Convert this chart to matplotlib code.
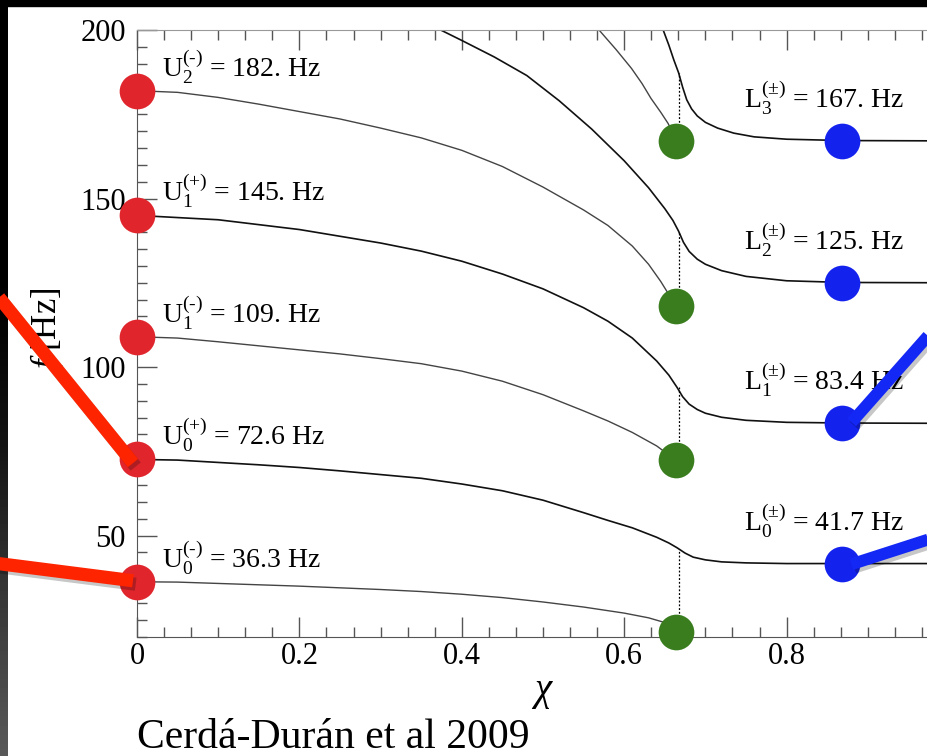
import numpy as np
import matplotlib.pyplot as plt
import matplotlib.patheffects as pe
from matplotlib.patches import Rectangle
from matplotlib.ticker import MultipleLocator

plt.rcParams['font.family'] = 'Liberation Serif'
plt.rcParams['mathtext.fontset'] = 'custom'
plt.rcParams['mathtext.rm'] = 'Liberation Serif'
plt.rcParams['mathtext.it'] = 'Liberation Serif:italic'

# frequencies at chi = 0 (red) and on the plateau (blue)
u_freqs = [36.3, 72.6, 109., 145., 182.]
u_names = [r"U$_0^{(‐)}$ = 36.3 Hz", r"U$_0^{(+)}$ = 72.6 Hz", r"U$_1^{(‐)}$ = 109. Hz",
           r"U$_1^{(+)}$ = 145. Hz", r"U$_2^{(‐)}$ = 182. Hz"]
l_freqs = [41.7, 83.4, 125., 167.]
l_names = [r"L$_0^{(\pm)}$ = 41.7 Hz", r"L$_1^{(\pm)}$ = 83.4 Hz", r"L$_2^{(\pm)}$ = 125. Hz",
           r"L$_3^{(\pm)}$ = 167. Hz"]
chi_l = 0.868

# end points of the U(-) branches (green) and the dotted links
chi_end = 0.664
end_freqs = [21.5, 72.3, 118., 167.]
chi_link = 0.667
link_top = [46.0, 94.0, 140.3, 187.3]

# branches
u0m_x = [0, 0.05, 0.10, 0.15, 0.20, 0.25, 0.30, 0.35, 0.40, 0.45, 0.50, 0.55, 0.60, 0.63, 0.65, 0.664]
u0m_y = [36.3, 36.2, 35.8, 35.4, 35.0, 34.5, 34.0, 33.4, 32.6, 31.6, 30.3, 28.8, 27.0, 25.6, 24.2, 22.5]

u0p_x = [0, 0.05, 0.10, 0.15, 0.20, 0.25, 0.30, 0.35, 0.40, 0.45, 0.50, 0.55, 0.58, 0.61, 0.64,
         0.655, 0.665, 0.675, 0.685, 0.70, 0.72, 0.75, 0.80, 1.0]
u0p_y = [72.6, 72.4, 71.7, 71.0, 70.2, 69.2, 68.1, 67.0, 65.3, 63.3, 60.5, 56.8, 54.5, 52.3, 49.5,
         47.8, 46.4, 44.8, 43.6, 42.8, 42.2, 41.9, 41.7, 41.7]

u1m_x = [0, 0.05, 0.10, 0.15, 0.20, 0.25, 0.30, 0.35, 0.40, 0.45, 0.50, 0.55, 0.58, 0.61, 0.64, 0.664]
u1m_y = [109.0, 108.6, 107.5, 106.3, 105.1, 103.9, 102.5, 101.0, 98.8, 95.8, 91.8, 87.0, 84.0,
         80.6, 76.6, 72.3]

u1p_x = [0, 0.10, 0.20, 0.30, 0.35, 0.40, 0.45, 0.50, 0.55, 0.58, 0.61, 0.64, 0.655, 0.665,
         0.672, 0.68, 0.69, 0.70, 0.72, 0.75, 0.80, 0.87, 1.0]
u1p_y = [145.0, 143.7, 140.8, 136.8, 134.4, 131.4, 127.6, 123.2, 117.6, 113.6, 108.6, 101.8,
         97.6, 94.0, 91.2, 89.0, 87.4, 86.3, 85.1, 84.2, 83.6, 83.4, 83.3]

u2m_x = [0, 0.05, 0.10, 0.15, 0.20, 0.25, 0.30, 0.35, 0.40, 0.45, 0.50, 0.55, 0.58, 0.61, 0.63,
         0.645, 0.655, 0.664]
u2m_y = [182.0, 181.5, 180.0, 178.0, 175.8, 173.6, 170.9, 168.0, 164.3, 159.5, 153.4, 146.6,
         142.0, 135.9, 130.5, 125.4, 121.5, 118.0]

u2p_x = [0.35, 0.374, 0.40, 0.44, 0.48, 0.52, 0.56, 0.60, 0.63, 0.65, 0.66, 0.667, 0.673, 0.68,
         0.69, 0.70, 0.72, 0.75, 0.80, 0.87, 1.0]
u2p_y = [202.8, 200.0, 196.9, 192.0, 186.5, 179.0, 170.6, 161.2, 153.2, 147.0, 143.5, 140.3,
         137.0, 134.3, 132.0, 130.5, 128.6, 126.9, 125.6, 125.1, 125.0]

u3m_x = [0.55, 0.569, 0.59, 0.609, 0.622, 0.633, 0.645, 0.654, 0.664]
u3m_y = [205.0, 200.0, 194.2, 188.6, 184.1, 179.7, 175.6, 172.3, 167.5]

u3p_x = [0.640, 0.648, 0.655, 0.661, 0.667, 0.672, 0.677, 0.683, 0.69, 0.70, 0.715, 0.735,
         0.76, 0.80, 0.87, 1.0]
u3p_y = [205.0, 200.0, 195.5, 191.2, 187.3, 183.0, 179.3, 176.6, 174.5, 172.6, 170.9, 169.4,
         168.3, 167.6, 167.2, 167.1]

minus_branches = [(u0m_x, u0m_y), (u1m_x, u1m_y), (u2m_x, u2m_y), (u3m_x, u3m_y)]
plus_branches = [(u0p_x, u0p_y), (u1p_x, u1p_y), (u2p_x, u2p_y), (u3p_x, u3p_y)]

fig = plt.figure(figsize=(9.27, 7.56), dpi=100)
ax = fig.add_axes([137 / 927, 119.3 / 756, 812 / 927, 606.7 / 756])
ax.set_zorder(2)

for bx, by in minus_branches:
    ax.plot(bx, by, color='#444444', lw=1.0, zorder=2, solid_joinstyle='round')
for bx, by in plus_branches:
    ax.plot(bx, by, color='#111111', lw=1.2, zorder=2, solid_joinstyle='round')

for f0, f1 in zip(end_freqs, link_top):
    ax.plot([chi_link, chi_link], [f0, f1], color='k', lw=0.9, ls=(0, (1.5, 1.5)), zorder=2)

ax.plot([0] * len(u_freqs), u_freqs, 'o', ms=25.7, color='#e0262c', mec='none',
        clip_on=False, zorder=3)
ax.plot([chi_end] * len(end_freqs), end_freqs, 'o', ms=25.7, color='#3a7d1e', mec='none',
        clip_on=False, zorder=3)
ax.plot([chi_l] * len(l_freqs), l_freqs, 'o', ms=25.7, color='#1422ee', mec='none',
        clip_on=False, zorder=3)

for f, name in zip(u_freqs, u_names):
    ax.text(0.031, f + 4, name, fontsize=20, va='baseline', zorder=4)
for f, name in zip(l_freqs, l_names):
    ax.text(0.747, f + 9.6, name, fontsize=20, va='baseline', zorder=4)

# slide pointers
shadow = [pe.SimpleLineShadow(offset=(2, -2.5), shadow_color='k', alpha=0.22), pe.Normal()]
for px, py in [([-0.2, -0.005], [129.6, 71.5]), ([-0.2, -0.005], [42.6, 36.6])]:
    ax.plot(px, py, color='#ff2400', lw=9.5, solid_capstyle='butt', clip_on=False,
            zorder=5, path_effects=shadow)
for px, py in [([0.880, 1.01], [83.6, 119.0]), ([0.880, 1.01], [41.5, 51.6])]:
    ax.plot(px, py, color='#1428f5', lw=8.5, solid_capstyle='butt', clip_on=False,
            zorder=5, path_effects=shadow)

ax.set_xlim(0, 1)
ax.set_ylim(20, 200)
ax.set_xticks([0, 0.2, 0.4, 0.6, 0.8])
ax.set_xticklabels(['0', '0.2', '0.4', '0.6', '0.8'])
ax.set_yticks([50, 100, 150, 200])
ax.xaxis.set_minor_locator(MultipleLocator(0.2 / 6))
ax.yaxis.set_minor_locator(MultipleLocator(5))
ax.tick_params(which='both', direction='in', top=True, right=True, width=1,
               color='#555555', labelsize=22)
ax.tick_params(which='major', length=14.4)
ax.tick_params(which='minor', length=7.2)
ax.tick_params(axis='x', pad=4)
ax.tick_params(axis='y', pad=8)
for side in ['left', 'bottom', 'right']:
    ax.spines[side].set_color('#555555')
ax.spines['top'].set_color('#999999')

ax.set_xlabel(r'$\chi$', fontsize=28, va='baseline')
ax.xaxis.set_label_coords(0.5, -0.105)
ax.set_ylabel(r'$f$ [Hz]', fontsize=25, va='center', ha='center')
ax.yaxis.set_label_coords(-0.111, 0.509)

fig.text(137 / 927, 8 / 756, 'Cerdá-Durán et al 2009', fontsize=30, va='baseline')

# slide frame: black strip on top, dark gradient strip on the left
fig.patches.append(Rectangle((0, 1 - 6 / 756), 1, 6 / 756, transform=fig.transFigure,
                             color='black', zorder=0))
band = fig.add_axes([0, 0, 8 / 927, 1])
band.set_zorder(0)
rows = np.arange(756)
shade = np.interp(rows, [0, 300, 450, 600, 756], [0, 0, 0.08, 0.22, 0.35])
band.imshow(shade[:, None], cmap='gray', vmin=0, vmax=1, aspect='auto',
            extent=[0, 1, 0, 756], origin='upper')
band.axis('off')

fig.savefig('out.png', dpi=100)
